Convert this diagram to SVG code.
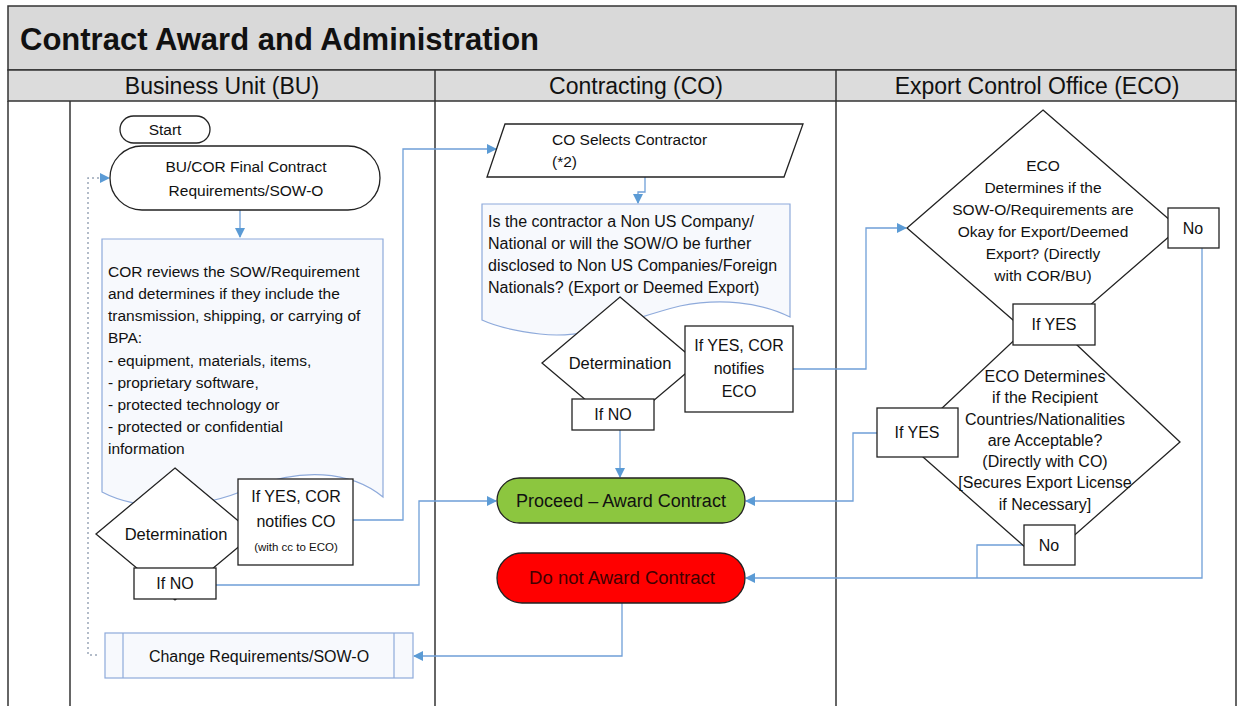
<svg xmlns="http://www.w3.org/2000/svg" width="1239" height="706" viewBox="0 0 1239 706">
<defs>
<marker id="ah" markerWidth="10" markerHeight="10" refX="9" refY="5" orient="auto" markerUnits="userSpaceOnUse" viewBox="0 0 10 10">
<path d="M0,0 L10,5 L0,10 Z" fill="#5b9bd5"/>
</marker>
</defs>
<style>
text{font-family:"Liberation Sans",Arial,sans-serif;fill:#111;}
.t{font-size:15.5px;}
.c{text-anchor:middle;}
.hdr{font-size:23px;text-anchor:middle;}
.frame{fill:none;stroke:#333;stroke-width:1.5;}
.box{fill:#fff;stroke:#222;stroke-width:1.3;}
.doc{fill:#f7f9fd;stroke:#8eaadb;stroke-width:1.2;}
.conn{fill:none;stroke:#6f9fd8;stroke-width:1.3;}
.dot{fill:none;stroke:#9aa6b8;stroke-width:1.5;stroke-dasharray:2,3;}
.lbl{font-size:16px;text-anchor:middle;}
</style>
<rect width="1239" height="706" fill="#fff"/>
<g id="frame">
<rect x="8" y="6" width="1228" height="64" fill="#d9d9d9" stroke="#333" stroke-width="1.5"/>
<rect x="8" y="70" width="1228" height="31" fill="#dcdcdc" stroke="#333" stroke-width="1.5"/>
<line class="frame" x1="8" y1="101" x2="8" y2="706"/>
<line class="frame" x1="1236" y1="101" x2="1236" y2="706"/>
<line class="frame" x1="435" y1="70" x2="435" y2="706"/>
<line class="frame" x1="836" y1="70" x2="836" y2="706"/>
<line class="frame" x1="70" y1="101" x2="70" y2="706"/>
<text x="20" y="50" style="font-size:31px;font-weight:bold">Contract Award and Administration</text>
<text class="hdr" x="222" y="94">Business Unit (BU)</text>
<text class="hdr" x="636" y="94">Contracting (CO)</text>
<text class="hdr" x="1037" y="94">Export Control Office (ECO)</text>
</g>
<g id="connectors">
<path class="conn" d="M240,210 V237" marker-end="url(#ah)"/>
<path class="conn" d="M353,520 H403 V149 H496" marker-end="url(#ah)"/>
<path class="conn" d="M216,585 H419 V501 H496" marker-end="url(#ah)"/>
<path class="dot" d="M97,655 H88 V178 H100"/>
<path d="M100,173 L110,178 L100,183 Z" fill="#5b9bd5"/>
<path class="conn" d="M645,177 V192 H638 V203" marker-end="url(#ah)"/>
<path class="conn" d="M620,430 V477" marker-end="url(#ah)"/>
<path class="conn" d="M793,369 H866 V228 H906" marker-end="url(#ah)"/>
<path class="conn" d="M877,433 H853 V501 H746" marker-end="url(#ah)"/>
<path class="conn" d="M1202,248 V578 H746" marker-end="url(#ah)"/>
<path class="conn" d="M1024,545 H977 V578"/>
<path class="conn" d="M622,603 V656 H414" marker-end="url(#ah)"/>
</g>
<g id="start">
<rect class="box" x="120" y="116" width="90" height="27" rx="13.5"/>
<text class="t c" x="165" y="135">Start</text>
</g>
<g id="bu-final">
<rect class="box" x="110" y="146" width="270" height="64" rx="32"/>
<text class="t c" x="246" y="172">BU/COR Final Contract</text>
<text class="t c" x="246" y="196">Requirements/SOW-O</text>
</g>
<g id="cor-review">
<path class="doc" d="M102,239 H383 V497 C350,470 300,468 250,488 C200,510 140,512 102,492 Z"/>
<text class="t" x="108" y="277">COR reviews the SOW/Requirement</text>
<text class="t" x="108" y="299">and determines if they include the</text>
<text class="t" x="108" y="321">transmission, shipping, or carrying of</text>
<text class="t" x="108" y="343">BPA:</text>
<text class="t" x="108" y="366">- equipment, materials, items,</text>
<text class="t" x="108" y="388">- proprietary software,</text>
<text class="t" x="108" y="410">- protected technology or</text>
<text class="t" x="108" y="432">- protected or confidential</text>
<text class="t" x="108" y="454">information</text>
</g>
<g id="bu-determination">
<polygon class="box" points="175,468 254,534 175,600 96,534"/>
<text class="c" x="176" y="540" style="font-size:16.5px">Determination</text>
</g>
<g id="bu-yes">
<rect class="box" x="238" y="479" width="115" height="86"/>
<text class="lbl" x="296" y="502">If YES, COR</text>
<text class="lbl" x="296" y="527">notifies CO</text>
<text class="c" x="296" y="551" style="font-size:11.5px">(with cc to ECO)</text>
</g>
<g id="bu-no">
<rect class="box" x="134" y="568" width="82" height="31"/>
<text class="lbl" x="175" y="589">If NO</text>
</g>
<g id="change-req">
<rect class="doc" x="105" y="633" width="308" height="45"/>
<line x1="123" y1="633" x2="123" y2="678" stroke="#8eaadb" stroke-width="1.2"/>
<line x1="394" y1="633" x2="394" y2="678" stroke="#8eaadb" stroke-width="1.2"/>
<text class="c" x="259" y="662" style="font-size:16px">Change Requirements/SOW-O</text>
</g>
<g id="co-select">
<polygon class="box" points="505,124 803,124 784,177 487,177"/>
<text class="t" x="552" y="145">CO Selects Contractor</text>
<text class="t" x="552" y="167">(*2)</text>
</g>
<g id="co-question">
<path class="doc" d="M482,204 H790 V317 C760,302 720,298 680,306 C630,318 590,340 540,334 C515,331 495,326 482,320 Z"/>
<text class="t" x="488" y="227" style="font-size:16px">Is the contractor a Non US Company/</text>
<text class="t" x="488" y="249" style="font-size:16px">National or will the SOW/O be further</text>
<text class="t" x="488" y="271" style="font-size:16px">disclosed to Non US Companies/Foreign</text>
<text class="t" x="488" y="293" style="font-size:16px">Nationals? (Export or Deemed Export)</text>
</g>
<g id="co-determination">
<polygon class="box" points="620,297 698,363 620,429 542,363"/>
<text class="c" x="620" y="369" style="font-size:16.5px">Determination</text>
</g>
<g id="co-yes">
<rect class="box" x="685" y="326" width="108" height="86"/>
<text class="lbl" x="739" y="351">If YES, COR</text>
<text class="lbl" x="739" y="374">notifies</text>
<text class="lbl" x="739" y="397">ECO</text>
</g>
<g id="co-no">
<rect class="box" x="572" y="399" width="82" height="31"/>
<text class="lbl" x="613" y="420">If NO</text>
</g>
<g id="proceed">
<rect x="497" y="478" width="248" height="45" rx="22.5" fill="#8cc63f" stroke="#222" stroke-width="1.3"/>
<text class="c" x="621" y="507" style="font-size:18px">Proceed – Award Contract</text>
</g>
<g id="do-not-award">
<rect x="497" y="553" width="248" height="50" rx="25" fill="#ff0000" stroke="#222" stroke-width="1.3"/>
<text class="c" x="622" y="584" style="font-size:18.5px;fill:#400000">Do not Award Contract</text>
</g>
<g id="eco-determine1">
<polygon class="box" points="1043,110 1179,228 1043,346 907,228"/>
<text class="t c" x="1043" y="171">ECO</text>
<text class="t c" x="1043" y="193">Determines if the</text>
<text class="t c" x="1043" y="215">SOW-O/Requirements are</text>
<text class="t c" x="1043" y="237">Okay for Export/Deemed</text>
<text class="t c" x="1043" y="259">Export? (Directly</text>
<text class="t c" x="1043" y="281">with COR/BU)</text>
</g>
<g id="eco-no1">
<rect class="box" x="1168" y="208" width="51" height="40"/>
<text class="lbl" x="1193" y="234">No</text>
</g>
<g id="eco-determine2">
<polygon class="box" points="1043,313 1180,442 1043,563 906,442"/>
<text class="c" x="1045" y="382" style="font-size:16px">ECO  Determines</text>
<text class="c" x="1045" y="403" style="font-size:16px">if the Recipient</text>
<text class="c" x="1045" y="425" style="font-size:16px">Countries/Nationalities</text>
<text class="c" x="1045" y="446" style="font-size:16px">are Acceptable?</text>
<text class="c" x="1045" y="467" style="font-size:16px">(Directly with CO)</text>
<text class="c" x="1045" y="488" style="font-size:16px">[Secures Export License</text>
<text class="c" x="1045" y="510" style="font-size:16px">if Necessary]</text>
</g>
<g id="eco-yes1">
<rect class="box" x="1013" y="304" width="82" height="41"/>
<text class="lbl" x="1054" y="330">If YES</text>
</g>
<g id="eco-yes2">
<rect class="box" x="877" y="408" width="81" height="49"/>
<text class="lbl" x="917" y="438">If YES</text>
</g>
<g id="eco-no2">
<rect class="box" x="1024" y="525" width="51" height="40"/>
<text class="lbl" x="1049" y="551">No</text>
</g>
</svg>
